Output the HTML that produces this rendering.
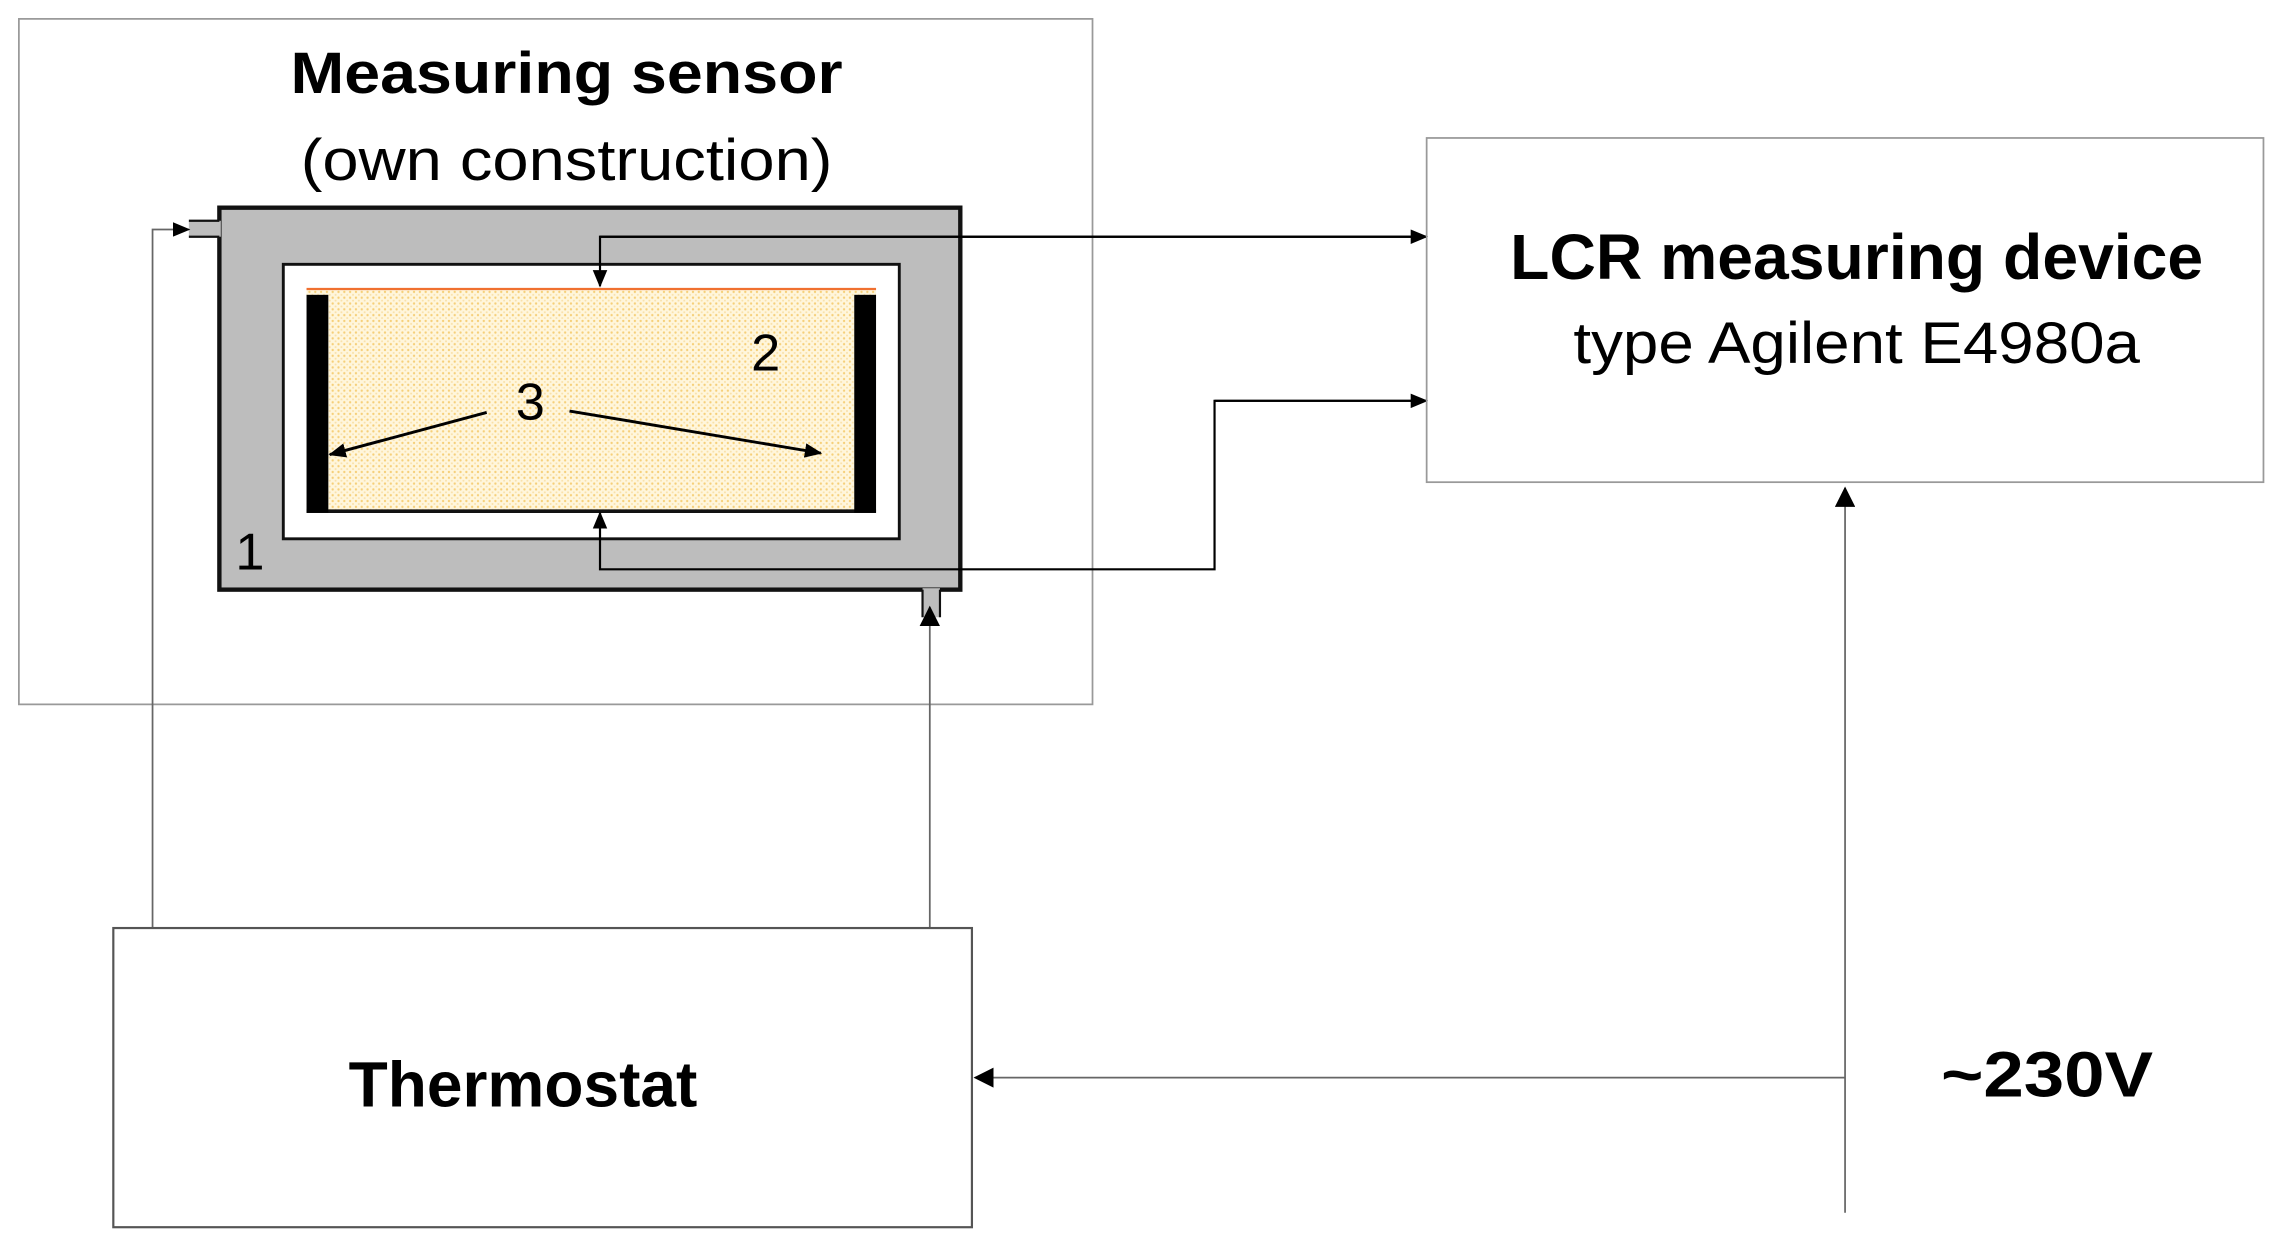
<!DOCTYPE html>
<html><head><meta charset="utf-8"><style>html,body{margin:0;padding:0;background:#fff;overflow:hidden}svg{display:block}</style></head>
<body>
<svg width="2278" height="1249" viewBox="0 0 1568 860" preserveAspectRatio="none" xmlns="http://www.w3.org/2000/svg" font-family="Liberation Sans, Arial, sans-serif">
<defs>
<pattern id="dots" width="4" height="4" patternUnits="userSpaceOnUse">
<rect width="4" height="4" fill="#fff6dc"/>
<circle cx="1" cy="1" r="0.8" fill="#f6cf78"/>
<circle cx="3" cy="3" r="0.7" fill="#f9e0a8"/>
</pattern>
<marker id="ah" markerWidth="12" markerHeight="10" refX="11" refY="5" orient="auto" markerUnits="userSpaceOnUse"><path d="M0,0 L12,5 L0,10 Z" fill="#000"/></marker>
<marker id="ahb" markerWidth="14" markerHeight="14" refX="13" refY="7" orient="auto" markerUnits="userSpaceOnUse"><path d="M0,0 L14,7 L0,14 Z" fill="#000"/></marker>
</defs>
<rect x="13" y="13" width="739" height="472" fill="none" stroke="#999" stroke-width="1.2"/>
<text x="390" y="64" font-size="40" font-weight="bold" text-anchor="middle" textLength="380" lengthAdjust="spacingAndGlyphs">Measuring sensor</text>
<text x="390" y="124" font-size="40" text-anchor="middle" textLength="366" lengthAdjust="spacingAndGlyphs">(own construction)</text>
<rect x="151" y="143" width="510" height="263" fill="#bdbdbd" stroke="#111" stroke-width="3"/>
<rect x="195" y="182" width="424" height="189" fill="#fff" stroke="#111" stroke-width="2"/>
<rect x="130" y="152" width="22" height="11" fill="#bdbdbd"/>
<line x1="130" y1="152" x2="151" y2="152" stroke="#111" stroke-width="1.5"/>
<line x1="130" y1="163" x2="151" y2="163" stroke="#111" stroke-width="1.5"/>
<rect x="635" y="405" width="12" height="20" fill="#bdbdbd"/>
<line x1="635" y1="406" x2="635" y2="425" stroke="#111" stroke-width="1.5"/>
<line x1="647" y1="406" x2="647" y2="425" stroke="#111" stroke-width="1.5"/>
<rect x="211" y="199" width="392" height="153" fill="url(#dots)"/>
<line x1="211" y1="199" x2="603" y2="199" stroke="#f07030" stroke-width="1.5"/>
<line x1="211" y1="352" x2="603" y2="352" stroke="#111" stroke-width="2.5"/>
<rect x="211" y="203" width="15" height="150" fill="#000"/>
<rect x="588" y="203" width="15" height="150" fill="#000"/>
<text x="527" y="255" font-size="36" text-anchor="middle">2</text>
<text x="365" y="289" font-size="36" text-anchor="middle">3</text>
<text x="172" y="392" font-size="36" text-anchor="middle">1</text>
<line x1="335" y1="284" x2="227" y2="313" stroke="#000" stroke-width="2" marker-end="url(#ah)"/>
<line x1="392" y1="283" x2="565" y2="312" stroke="#000" stroke-width="2" marker-end="url(#ah)"/>
<polyline points="982,163 413,163 413,197" fill="none" stroke="#000" stroke-width="1.5" marker-end="url(#ah)"/>
<line x1="413" y1="163" x2="982" y2="163" stroke="#000" stroke-width="1.5" marker-end="url(#ah)"/>
<polyline points="980,276 836,276 836,392 413,392 413,353" fill="none" stroke="#000" stroke-width="1.5" marker-end="url(#ah)"/>
<line x1="836" y1="276" x2="982" y2="276" stroke="#000" stroke-width="1.5" marker-end="url(#ah)"/>
<polyline points="105,639 105,158 130,158" fill="none" stroke="#666" stroke-width="1.2" marker-end="url(#ah)"/>
<line x1="640" y1="639" x2="640" y2="418" stroke="#666" stroke-width="1.2" marker-end="url(#ahb)"/>
<rect x="982" y="95" width="576" height="237" fill="none" stroke="#999" stroke-width="1.2"/>
<text x="1278" y="192" font-size="44" font-weight="bold" text-anchor="middle" textLength="477" lengthAdjust="spacingAndGlyphs">LCR measuring device</text>
<text x="1278" y="250" font-size="40" text-anchor="middle" textLength="390" lengthAdjust="spacingAndGlyphs">type Agilent E4980a</text>
<line x1="1270" y1="835" x2="1270" y2="336" stroke="#666" stroke-width="1.2" marker-end="url(#ahb)"/>
<line x1="1270" y1="742" x2="671" y2="742" stroke="#666" stroke-width="1.2" marker-end="url(#ahb)"/>
<text x="1409" y="755" font-size="44" font-weight="bold" text-anchor="middle" textLength="146" lengthAdjust="spacingAndGlyphs">~230V</text>
<rect x="78" y="639" width="591" height="206" fill="none" stroke="#555" stroke-width="1.5"/>
<text x="360" y="762" font-size="44" font-weight="bold" text-anchor="middle" textLength="240" lengthAdjust="spacingAndGlyphs">Thermostat</text>
</svg>
</body></html>
